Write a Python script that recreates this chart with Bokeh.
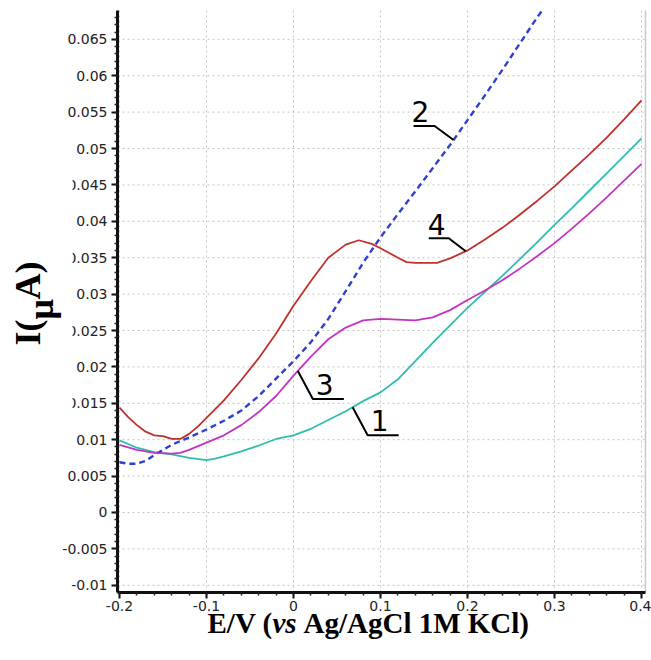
import numpy as np
from bokeh.plotting import figure
from bokeh.models import (Range1d, FixedTicker, CustomJSTickFormatter, Label, LinearAxis,
                          BoxAnnotation)
from bokeh.embed import file_html
from bokeh.resources import INLINE

# ---------------- data ----------------
# curve 1 (cyan)
E1 = [-0.2, -0.18, -0.16, -0.14, -0.12, -0.10, -0.09, -0.08, -0.06, -0.04, -0.02, 0.0,
      0.02, 0.04, 0.06, 0.08, 0.10, 0.12, 0.14, 0.16, 0.18, 0.20, 0.22, 0.24, 0.26,
      0.28, 0.30, 0.32, 0.34, 0.36, 0.38, 0.40]
I1 = [0.0099, 0.0089, 0.0083, 0.0080, 0.0075, 0.0072, 0.0074, 0.0077, 0.0084, 0.0092,
      0.0101, 0.0106, 0.0115, 0.0127, 0.0139, 0.0153, 0.0165, 0.0183, 0.0208, 0.0233,
      0.0257, 0.0281, 0.0303, 0.0325, 0.0348, 0.0371, 0.0395, 0.0418, 0.0442, 0.0466,
      0.0490, 0.0514]

# curve 2 (blue, dashed) - leaves the top of the plot
E2 = [-0.2, -0.19, -0.18, -0.17, -0.16, -0.15, -0.14, -0.12, -0.10, -0.08, -0.06, -0.04,
      -0.02, 0.0, 0.02, 0.04, 0.06, 0.08, 0.10, 0.12, 0.14, 0.16, 0.18, 0.20, 0.22,
      0.24, 0.26, 0.28, 0.286]
I2 = [0.0069, 0.0067, 0.0067, 0.0071, 0.0079, 0.0086, 0.0093, 0.0103, 0.0114, 0.0126,
      0.0140, 0.0160, 0.0184, 0.0208, 0.0234, 0.0266, 0.0304, 0.0343, 0.0378, 0.0410,
      0.0441, 0.0473, 0.0505, 0.0539, 0.0573, 0.0608, 0.0644, 0.0680, 0.0690]

# curve 3 (magenta)
E3 = [-0.2, -0.18, -0.16, -0.14, -0.13, -0.12, -0.10, -0.08, -0.06, -0.04, -0.02, 0.0,
      0.02, 0.04, 0.06, 0.08, 0.10, 0.12, 0.14, 0.16, 0.18, 0.20, 0.22, 0.24, 0.26,
      0.28, 0.30, 0.32, 0.34, 0.36, 0.38, 0.40]
I3 = [0.0093, 0.0086, 0.0082, 0.0081, 0.0082, 0.0086, 0.0096, 0.0106, 0.0120, 0.0138,
      0.0160, 0.0188, 0.0214, 0.0238, 0.0254, 0.0264, 0.0266, 0.0265, 0.0264, 0.0268,
      0.0278, 0.0292, 0.0305, 0.0319, 0.0335, 0.0352, 0.0370, 0.0390, 0.0411, 0.0433,
      0.0456, 0.0479]

# curve 4 (red)
E4 = [-0.2, -0.19, -0.18, -0.17, -0.16, -0.15, -0.14, -0.13, -0.12, -0.11, -0.10, -0.08,
      -0.06, -0.04, -0.02, 0.0, 0.02, 0.04, 0.06, 0.075, 0.09, 0.10, 0.12, 0.13, 0.14,
      0.165, 0.18, 0.20, 0.22, 0.24, 0.26, 0.28, 0.30, 0.32, 0.34, 0.36, 0.38, 0.40]
I4 = [0.0144, 0.0131, 0.0120, 0.0111, 0.0106, 0.0105, 0.0101, 0.0101, 0.0108, 0.0118,
      0.0130, 0.0154, 0.0182, 0.0212, 0.0246, 0.0284, 0.0318, 0.0350, 0.0368, 0.0374,
      0.0369, 0.0363, 0.0350, 0.0344, 0.0343, 0.0343, 0.0349, 0.0360, 0.0375, 0.0391,
      0.0409, 0.0428, 0.0448, 0.0470, 0.0492, 0.0515, 0.0540, 0.0566]

CURVE_NAMES = ["1", "2", "3", "4"]
CURVE_COLORS = ["#2fbdb0", "#2f3fd4", "#c433c4", "#c0302c"]

X_TICKS = [-0.2, -0.1, 0.0, 0.1, 0.2, 0.3, 0.4]
X_TICK_LABELS = ["-0.2", "-0.1", "0", "0.1", "0.2", "0.3", "0.4"]
Y_TICKS = [-0.01, -0.005, 0.0, 0.005, 0.01, 0.015, 0.02, 0.025, 0.03, 0.035,
           0.04, 0.045, 0.05, 0.055, 0.06, 0.065]
Y_TICK_LABELS = ["-0.01", "-0.005", "0", "0.005", "0.01", "0.015", "0.02", "0.025",
                 "0.03", "0.035", "0.04", "0.045", "0.05", "0.055", "0.06", "0.065"]

X_LABEL_PARTS = ["E/V (", "vs", "Ag/AgCl 1M KCl)"]
Y_LABEL_PARTS = ["I(", "\u03bc", "A)"]

# ---------------- layout ----------------
W, H = 651, 660
FL, FR, FT, FB = 117, 6, 10, 68          # where the data box sits inside the canvas
FW, FH = W - FL - FR, H - FT - FB
X0, X1 = -0.2023, 0.4046                 # data box limits
Y0, Y1 = -0.01099, 0.06896
DXP = (X1 - X0) / FW                     # data units per pixel
DYP = (Y1 - Y0) / FH
XA, XB = X0 - FL * DXP, X1 + FR * DXP    # whole-canvas ranges
YA, YB = Y0 - FB * DYP, Y1 + FT * DYP


def px_x(px):
    return X0 + (px - FL) * DXP


def py_y(py):
    return Y1 - (py - FT) * DYP


p = figure(width=W, height=H, x_range=Range1d(XA, XB), y_range=Range1d(YA, YB),
           output_backend="svg", toolbar_location=None, title=None,
           x_axis_location=None, y_axis_location=None, min_border=0)
p.background_fill_color = "white"
p.border_fill_color = "white"
p.outline_line_color = None
p.grid.visible = False

fmt_code = """
for (let i = 0; i < tv.length; i++) {
  if (Math.abs(tv[i] - tick) < 1e-9) { return tl[i]; }
}
return "";
"""

minor_x = [float(v) for v in np.round(np.arange(-0.2, 0.4001, 0.02), 4)]
minor_y = [float(v) for v in np.round(np.arange(-0.010, 0.0681, 0.001), 4)]

xaxis = LinearAxis(fixed_location=Y0, bounds=(X0, X1),
                   ticker=FixedTicker(ticks=X_TICKS, minor_ticks=minor_x),
                   formatter=CustomJSTickFormatter(args=dict(tv=X_TICKS, tl=X_TICK_LABELS), code=fmt_code))
yaxis = LinearAxis(fixed_location=X0, bounds=(Y0, Y1),
                   ticker=FixedTicker(ticks=Y_TICKS, minor_ticks=minor_y),
                   formatter=CustomJSTickFormatter(args=dict(tv=Y_TICKS, tl=Y_TICK_LABELS), code=fmt_code))
for ax in (xaxis, yaxis):
    ax.axis_line_width = 3
    ax.axis_line_color = "#111111"
    ax.major_tick_line_width = 2
    ax.major_tick_line_color = "#111111"
    ax.minor_tick_line_width = 1.5
    ax.minor_tick_line_color = "#222222"
    ax.major_tick_in = 0
    ax.minor_tick_in = 0
    ax.major_tick_out = 6
    ax.minor_tick_out = 3
    ax.major_label_text_font = "DejaVu Sans"
    ax.major_label_text_font_size = "14px"
    ax.major_label_text_color = "#222222"
yaxis.major_label_standoff = 4
xaxis.major_label_standoff = 2
p.add_layout(xaxis, "below")
p.add_layout(yaxis, "left")

# dotted grid inside the data box + light right edge
p.segment(x0=X_TICKS, y0=[Y0] * len(X_TICKS), x1=X_TICKS, y1=[Y1] * len(X_TICKS),
          line_color="#c4c4c4", line_dash="2 3", line_width=1, level="underlay")
p.segment(x0=[X0] * len(Y_TICKS), y0=Y_TICKS, x1=[X1] * len(Y_TICKS), y1=Y_TICKS,
          line_color="#c4c4c4", line_dash="2 3", line_width=1, level="underlay")
p.segment(x0=[X1], y0=[Y0], x1=[X1], y1=[Y1], line_color="#c8c8c8", line_width=1.5,
          level="underlay")

# white patch (from the pasted axis-title image) that hides the leading digit of some tick labels
p.add_layout(BoxAnnotation(left=XA, right=px_x(72), bottom=py_y(420), top=py_y(165),
                           fill_color="white", fill_alpha=1.0, line_color=None,
                           line_alpha=0))

# curves
series = [(E1, I1), (E2, I2), (E3, I3), (E4, I4)]
for (xs, ys), name, col in zip(series, CURVE_NAMES, CURVE_COLORS):
    if name == "2":
        p.line(xs, ys, line_color=col, line_width=2.4, line_dash="6 4")
    else:
        p.line(xs, ys, line_color=col, line_width=1.8)

# Bokeh places an "alphabetic" label roughly on the glyph middle: compensate
SHIFT = 0.37

# curve labels with leader lines (offsets in pixels from an anchor on the curve)
label_specs = {
    "1": dict(ax=0.068, pts=[(0, 0), (15, 28), (46, 28)], txt=(18, 24)),
    "2": dict(ax=0.184, pts=[(-40, -14), (-19, -14), (0, 0)], txt=(-42, -18)),
    "3": dict(ax=0.005, pts=[(0, 0), (15, 28), (46, 28)], txt=(18, 24)),
    "4": dict(ax=0.198, pts=[(-37, -13), (-17, -13), (0, 0)], txt=(-38, -16)),
}
for (xs, ys), name in zip(series, CURVE_NAMES):
    spec = label_specs[name]
    ax0 = spec["ax"]
    ay0 = float(np.interp(ax0, xs, ys))
    lx = [ax0 + dx * DXP for dx, dy in spec["pts"]]
    ly = [ay0 - dy * DYP for dx, dy in spec["pts"]]
    p.line(lx, ly, line_color="black", line_width=2)
    tx, ty = spec["txt"]
    p.add_layout(Label(x=ax0 + tx * DXP, y=ay0 - (ty - SHIFT * 28) * DYP, text=name,
                       text_font="DejaVu Sans", text_font_size="28px",
                       text_color="black", text_align="left",
                       text_baseline="alphabetic"))

# x axis title (bold serif, italic "vs")
xl_base = py_y(633 - SHIFT * 29)
x_positions = [207, 272, 303]
x_styles = ["bold", "bold italic", "bold"]
for t, px, st in zip(X_LABEL_PARTS, x_positions, x_styles):
    p.add_layout(Label(x=px_x(px), y=xl_base, text=t, text_font="Liberation Serif",
                       text_font_size="29px", text_font_style=st, text_color="black",
                       text_align="left", text_baseline="alphabetic"))

# y axis title, rotated (the micro sign sits lower, like a subscript)
y_starts = [345, 319, 299]
y_base = [41, 54, 41]
for t, py, bx in zip(Y_LABEL_PARTS, y_starts, y_base):
    p.add_layout(Label(x=px_x(bx - SHIFT * 36), y=py_y(py), text=t,
                       text_font="Liberation Serif",
                       text_font_size="36px", text_font_style="bold", text_color="black",
                       text_align="left", text_baseline="alphabetic", angle=np.pi / 2))

open("out.html", "w").write(file_html(p, INLINE))
